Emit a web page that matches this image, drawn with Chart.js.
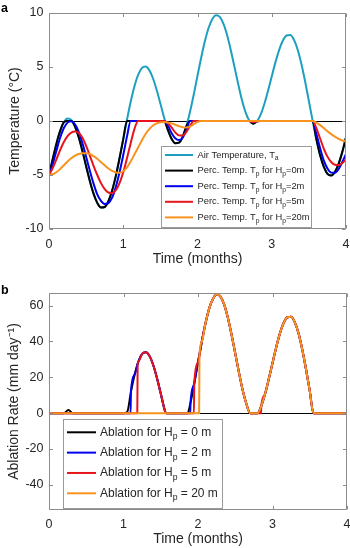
<!DOCTYPE html>
<html><head><meta charset="utf-8">
<script src="https://cdn.jsdelivr.net/npm/chart.js@4.4.1/dist/chart.umd.min.js"></script>
<style>
html,body{margin:0;padding:0;background:#fff;width:350px;height:548px;overflow:hidden}
.wrap{position:absolute;left:0;width:350px}
#wa{top:0;height:270px}
#wb{top:270px;height:278px}
canvas{display:block}
</style></head><body>
<div class="wrap" id="wa"><canvas id="ca" width="350" height="270"></canvas></div>
<div class="wrap" id="wb"><canvas id="cb" width="350" height="278"></canvas></div>
<script>
// ---------- data ----------
const months = [0,0.05,0.1,0.15,0.2,0.25,0.3,0.35,0.4,0.45,0.5,0.55,0.6,0.65,0.7,0.75,0.8,0.85,0.9,0.95,1,1.05,1.1,1.15,1.2,1.25,1.3,1.35,1.4,1.45,1.5,1.55,1.6,1.65,1.7,1.75,1.8,1.85,1.9,1.95,2,2.05,2.1,2.15,2.2,2.25,2.3,2.35,2.4,2.45,2.5,2.55,2.6,2.65,2.7,2.75,2.8,2.85,2.9,2.95,3,3.05,3.1,3.15,3.2,3.25,3.3,3.35,3.4,3.45,3.5,3.55,3.6,3.65,3.7,3.75,3.8,3.85,3.9,3.95,4];

const airTemp = [-5,-3.52,-2.1,-0.92,-0.11,0.24,0.1,-0.51,-1.51,-2.78,-4.18,-5.55,-6.73,-7.58,-8.01,-7.96,-7.42,-6.44,-5.08,-3.45,-1.68,0.11,1.78,3.2,4.26,4.89,5.04,4.71,3.96,2.87,1.61,0.32,-0.81,-1.64,-2.06,-2.01,-1.47,-0.48,0.88,2.48,4.2,5.88,7.4,8.63,9.44,9.79,9.64,8.99,7.91,6.51,4.94,3.35,1.9,0.75,0,-0.25,-0.03,0.6,1.58,2.81,4.14,5.45,6.59,7.45,7.92,7.96,7.5,6.58,5.25,3.63,1.84,0.03,-1.68,-3.14,-4.22,-4.89,-5.04,-4.72,-3.97,-2.86,-1.5];

const percTempH0 = [-5,-3.52,-2.1,-0.92,-0.11,0,0,-0.51,-1.51,-2.78,-4.18,-5.55,-6.73,-7.58,-8.01,-7.96,-7.42,-6.44,-5.08,-3.45,-1.68,
 0,0,0,0,0,0,0,0,0,0,0,
 -0.81,-1.64,-2.06,-2.01,-1.47,-0.48,
 0,0,0,0,0,0,0,0,0,0,0,0,0,0,0,0,0,
 -0.25,-0.03,
 0,0,0,0,0,0,0,0,0,0,0,0,0,0,0,
 -1.68,-3.14,-4.22,-4.89,-5.04,-4.72,-3.97,-2.86,-1.5];

const percTempH2 = [-5,-4,-2.75,-1.55,-0.65,-0.15,-0.03,-0.3,-1,-2.05,-3.3,-4.6,-5.8,-6.8,-7.4,-7.68,-7.6,-7.1,-6.1,-4.75,-3.15,-1.45,0,
 0,0,0,0,0,0,0,0,0,
 -0.4,-1.1,-1.6,-1.77,-1.55,-0.85,
 0,
 0,0,0,0,0,0,0,0,0,0,0,0,0,0,0,0,
 -0.1,0,
 0,0,0,0,0,0,0,0,0,0,0,0,0,0,0,
 -1.15,-2.5,-3.65,-4.4,-4.78,-4.8,-4.45,-3.8,-3.05];

const percTempH5 = [-5,-4.35,-3.55,-2.7,-1.95,-1.4,-1.07,-0.97,-1.1,-1.55,-2.3,-3.2,-4.15,-5,-5.75,-6.3,-6.62,-6.68,-6.4,-5.75,-4.75,-3.45,-2.05,-0.75,0,
 0,0,0,0,0,0,0,
 -0.2,-0.6,-1.05,-1.33,-1.35,-1,-0.45,
 0,
 0,0,0,0,0,0,0,0,0,0,0,0,0,0,0,
 -0.12,-0.05,
 0,0,0,0,0,0,0,0,0,0,0,0,0,0,0,
 -0.65,-1.6,-2.55,-3.3,-3.8,-4.05,-4.08,-3.9,-3.55];

const percTempH20 = [-5,-4.93,-4.75,-4.45,-4.1,-3.75,-3.45,-3.2,-3.05,-2.98,-2.98,-3.05,-3.25,-3.5,-3.8,-4.1,-4.4,-4.62,-4.77,-4.8,-4.65,-4.3,-3.75,-3.1,-2.45,-1.8,-1.2,-0.75,-0.42,-0.22,-0.12,-0.1,-0.13,-0.22,-0.35,-0.48,-0.58,-0.6,-0.5,-0.3,-0.08,
 0,0,0,0,0,0,0,0,0,0,0,0,0,0,0,0,0,0,0,0,0,0,0,0,0,0,0,0,0,0,0,
 -0.15,-0.38,-0.65,-0.95,-1.22,-1.45,-1.65,-1.8,-1.9];

const ablTimeH0 = [0,0.2,0.26,0.32,1,1.05,1.1,1.15,1.2,1.25,1.3,1.35,1.4,1.45,1.5,1.55,1.57,1.86,1.9,1.95,2,2.05,2.1,2.15,2.2,2.25,2.3,2.35,2.4,2.45,2.5,2.55,2.6,2.65,2.7,2.8,2.85,2.9,2.95,3,3.05,3.1,3.15,3.2,3.25,3.3,3.35,3.4,3.45,3.5,3.55,4];
const ablRateH0 = [0,0,1.7,0,0,0.7,12,21.6,28.8,33,34,31.8,26.7,19.4,10.9,2.2,0,0,5.9,16.7,28.4,39.7,50,58.3,63.7,66.1,65.1,60.7,53.4,43.9,33.3,22.6,12.8,5.1,0,0,4.1,10.7,19,27.9,36.8,44.5,50.3,53.5,53.7,50.6,44.4,35.4,24.5,12.4,0,0];

const ablTimeH2 = [0,1.095,1.1,1.15,1.2,1.25,1.3,1.35,1.4,1.45,1.5,1.55,1.57,1.895,1.9,1.95,2,2.05,2.1,2.15,2.2,2.25,2.3,2.35,2.4,2.45,2.5,2.55,2.6,2.65,2.7,2.8,2.85,2.9,2.95,3,3.05,3.1,3.15,3.2,3.25,3.3,3.35,3.4,3.45,3.5,3.55,4];
const ablRateH2 = [0,0,12,21.6,28.8,33,34,31.8,26.7,19.4,10.9,2.2,0,0,5.9,16.7,28.4,39.7,50,58.3,63.7,66.1,65.1,60.7,53.4,43.9,33.3,22.6,12.8,5.1,0,0,4.1,10.7,19,27.9,36.8,44.5,50.3,53.5,53.7,50.6,44.4,35.4,24.5,12.4,0,0];

const ablTimeH5 = [0,1.185,1.19,1.2,1.25,1.3,1.35,1.4,1.45,1.5,1.55,1.57,1.945,1.95,2,2.05,2.1,2.15,2.2,2.25,2.3,2.35,2.4,2.45,2.5,2.55,2.6,2.65,2.7,2.845,2.85,2.9,2.95,3,3.05,3.1,3.15,3.2,3.25,3.3,3.35,3.4,3.45,3.5,3.55,4];
const ablRateH5 = [0,0,27.6,28.8,33,34,31.8,26.7,19.4,10.9,2.2,0,0,16.7,28.4,39.7,50,58.3,63.7,66.1,65.1,60.7,53.4,43.9,33.3,22.6,12.8,5.1,0,0,4.1,10.7,19,27.9,36.8,44.5,50.3,53.5,53.7,50.6,44.4,35.4,24.5,12.4,0,0];

const ablTimeH20 = [0,2.015,2.02,2.05,2.1,2.15,2.2,2.25,2.3,2.35,2.4,2.45,2.5,2.55,2.6,2.65,2.7,2.8,2.85,2.9,2.95,3,3.05,3.1,3.15,3.2,3.25,3.3,3.35,3.4,3.45,3.5,3.55,4];
const ablRateH20 = [0,0,32.9,39.7,50,58.3,63.7,66.1,65.1,60.7,53.4,43.9,33.3,22.6,12.8,5.1,0,0,4.1,10.7,19,27.9,36.8,44.5,50.3,53.5,53.7,50.6,44.4,35.4,24.5,12.4,0,0];

const timeTicks = [0,1,2,3,4];
const tempTicks = [-10,-5,0,5,10];
const ablTicks = [-40,-20,0,20,40,60];

const legendA = ['Air Temperature, T_{a}','Perc. Temp. T_{p} for H_{p}=0m','Perc. Temp. T_{p} for H_{p}=2m','Perc. Temp. T_{p} for H_{p}=5m','Perc. Temp. T_{p} for H_{p}=20m'];
const legendB = ['Ablation for H_{p} = 0 m','Ablation for H_{p} = 2 m','Ablation for H_{p} = 5 m','Ablation for H_{p} = 20 m'];

// ---------- styling ----------
const FONT = "'Liberation Sans', Arial, Helvetica, sans-serif";
const TXT = '#262626';
const FRAME = '#8c8c8c';
const colAir = '#1DA0C0', colH0 = '#000000', colH2 = '#0000F0', colH5 = '#E8141C', colH20 = '#F7931E';
Chart.defaults.font.family = FONT;
Chart.defaults.color = TXT;

const plain = s => s.replace(/_\{a\}/g,'\u2090').replace(/_\{p\}/g,'\u209A');

function parseRich(s){
  const out=[]; const re=/([_^])\{([^}]*)\}/g; let last=0,m;
  while((m=re.exec(s))){ if(m.index>last) out.push({t:s.slice(last,m.index),k:''}); out.push({t:m[2],k:m[1]}); last=re.lastIndex; }
  if(last<s.length) out.push({t:s.slice(last),k:''});
  return out;
}
function drawRich(ctx,s,x,y,size){
  ctx.textBaseline='middle'; ctx.textAlign='left'; ctx.fillStyle=TXT;
  parseRich(s).forEach(seg=>{
    const fs = seg.k ? size*0.72 : size;
    ctx.font = fs+'px '+FONT;
    const dy = seg.k==='_' ? size*0.38 : (seg.k==='^' ? -size*0.4 : 0);
    ctx.fillText(seg.t,x,y+dy);
    x += ctx.measureText(seg.t).width;
  });
}

const framePlugin = {
  id:'frameBox',
  afterDatasetsDraw(chart){
    const {ctx, chartArea:a} = chart; const xs=chart.scales.x, ys=chart.scales.y;
    ctx.save(); ctx.strokeStyle=FRAME; ctx.lineWidth=1;
    const L=Math.round(a.left)+0.5, R=Math.round(a.right)-0.5, T=Math.round(a.top)+0.5, B=Math.round(a.bottom)-0.5;
    ctx.beginPath(); ctx.rect(L,T,R-L,B-T);
    const tl=3.5;
    xs.ticks.forEach(t=>{const p=Math.round(xs.getPixelForValue(t.value))+0.5; ctx.moveTo(p,B); ctx.lineTo(p,B-tl); ctx.moveTo(p,T); ctx.lineTo(p,T+tl);});
    ys.ticks.forEach(t=>{const p=Math.round(ys.getPixelForValue(t.value))+0.5; ctx.moveTo(L,p); ctx.lineTo(L+tl,p); ctx.moveTo(R,p); ctx.lineTo(R-tl,p);});
    ctx.stroke(); ctx.restore();
  }
};

const legendPlugin = {
  id:'richLegend',
  afterDatasetsDraw(chart,args,o){
    if(!o || !o.labels) return;
    const ctx=chart.ctx; ctx.save();
    ctx.fillStyle='#fff'; ctx.fillRect(o.box[0],o.box[1],o.box[2],o.box[3]);
    ctx.strokeStyle='#9a9a9a'; ctx.lineWidth=1; ctx.strokeRect(o.box[0]+0.5,o.box[1]+0.5,o.box[2],o.box[3]);
    o.labels.forEach((lab,i)=>{
      const y=o.row0+i*o.rowGap;
      ctx.strokeStyle=o.colors[i]; ctx.lineWidth=2;
      ctx.beginPath(); ctx.moveTo(o.lineX[0],y); ctx.lineTo(o.lineX[1],y); ctx.stroke();
      drawRich(ctx,lab,o.textX,y,o.size);
    });
    ctx.restore();
  }
};

const letterPlugin = {
  id:'panelLetter',
  afterDraw(chart,args,o){
    if(!o || !o.text) return;
    const ctx=chart.ctx; ctx.save();
    ctx.font='bold 12.5px '+FONT; ctx.fillStyle='#000'; ctx.textBaseline='alphabetic'; ctx.textAlign='left';
    ctx.fillText(o.text,o.x,o.y); ctx.restore();
  }
};

function ds(label,xs,ys,color,order){
  return {label:plain(label), data:xs.map((x,i)=>({x:x,y:ys[i]})), borderColor:color, backgroundColor:color,
    borderWidth:2, pointRadius:0, pointHoverRadius:0, fill:false, tension:0.4, cubicInterpolationMode:'monotone',
    order:order, borderJoinStyle:'round', borderCapStyle:'round'};
}

function scalesFor(p){
  return {
    x:{type:'linear', min:0, max:4,
      afterBuildTicks:s=>{s.ticks=timeTicks.map(v=>({value:v}));},
      afterFit:s=>{s.height=p.xH;},
      grid:{display:false}, border:{display:false},
      ticks:{font:{size:12.5}, color:TXT, padding:p.xPad, maxRotation:0, autoSkip:false, callback:v=>String(v)},
      title:{display:true, text:'Time (months)', font:{size:14}, color:TXT, padding:{top:0,bottom:p.xTitlePad}}
    },
    y:{type:'linear', min:p.yMin, max:p.yMax,
      afterBuildTicks:s=>{s.ticks=p.yTicks.map(v=>({value:v}));},
      afterFit:s=>{s.width=49;},
      grid:{drawTicks:false, lineWidth:1, color:c=>(c.tick && c.tick.value===0)?'#000':'rgba(0,0,0,0)'},
      border:{display:false},
      ticks:{font:{size:12.5}, color:TXT, padding:5.5, autoSkip:false, callback:v=>String(v)},
      title:{display:true, text:p.yTitle, font:{size:14}, color:TXT, padding:{top:p.yTitlePad,bottom:0}}
    }
  };
}

const common = {responsive:false, animation:false, devicePixelRatio:1, events:[]};

new Chart(document.getElementById('ca'), {
  type:'line',
  data:{datasets:[
    ds(legendA[0],months,airTemp,colAir,5),
    ds(legendA[1],months,percTempH0,colH0,4),
    ds(legendA[2],months,percTempH2,colH2,3),
    ds(legendA[3],months,percTempH5,colH5,2),
    ds(legendA[4],months,percTempH20,colH20,1)
  ]},
  options:Object.assign({}, common, {
    layout:{padding:{top:11,right:3,bottom:0,left:0}},
    scales:scalesFor({xH:41,xPad:0.5,xTitlePad:2.6,yTitlePad:6.6,yMin:-10,yMax:10,yTicks:tempTicks,yTitle:'Temperature (\u00B0C)'}),
    plugins:{legend:{display:false}, tooltip:{enabled:false},
      richLegend:{labels:legendA, colors:[colAir,colH0,colH2,colH5,colH20], box:[161,146,150,81], row0:155, rowGap:15.6, lineX:[165,193], textX:197.5, size:9.35},
      panelLetter:{text:'a', x:1, y:12}
    }
  }),
  plugins:[framePlugin, legendPlugin, letterPlugin]
});

new Chart(document.getElementById('cb'), {
  type:'line',
  data:{datasets:[
    ds(legendB[0],ablTimeH0,ablRateH0,colH0,4),
    ds(legendB[1],ablTimeH2,ablRateH2,colH2,3),
    ds(legendB[2],ablTimeH5,ablRateH5,colH5,2),
    ds(legendB[3],ablTimeH20,ablRateH20,colH20,1)
  ]},
  options:Object.assign({}, common, {
    layout:{padding:{top:23,right:3,bottom:0,left:0}},
    scales:scalesFor({xH:38,xPad:-0.5,xTitlePad:0.6,yTitlePad:5.6,yMin:-54,yMax:67,yTicks:ablTicks,yTitle:'Ablation Rate (mm day\u207B\u00B9)'}),
    plugins:{legend:{display:false}, tooltip:{enabled:false},
      richLegend:{labels:legendB, colors:[colH0,colH2,colH5,colH20], box:[63,149,159,89], row0:162.3, rowGap:20.33, lineX:[67,96], textX:100, size:12},
      panelLetter:{text:'b', x:1, y:24}
    }
  }),
  plugins:[framePlugin, legendPlugin, letterPlugin]
});
</script>
</body></html>
